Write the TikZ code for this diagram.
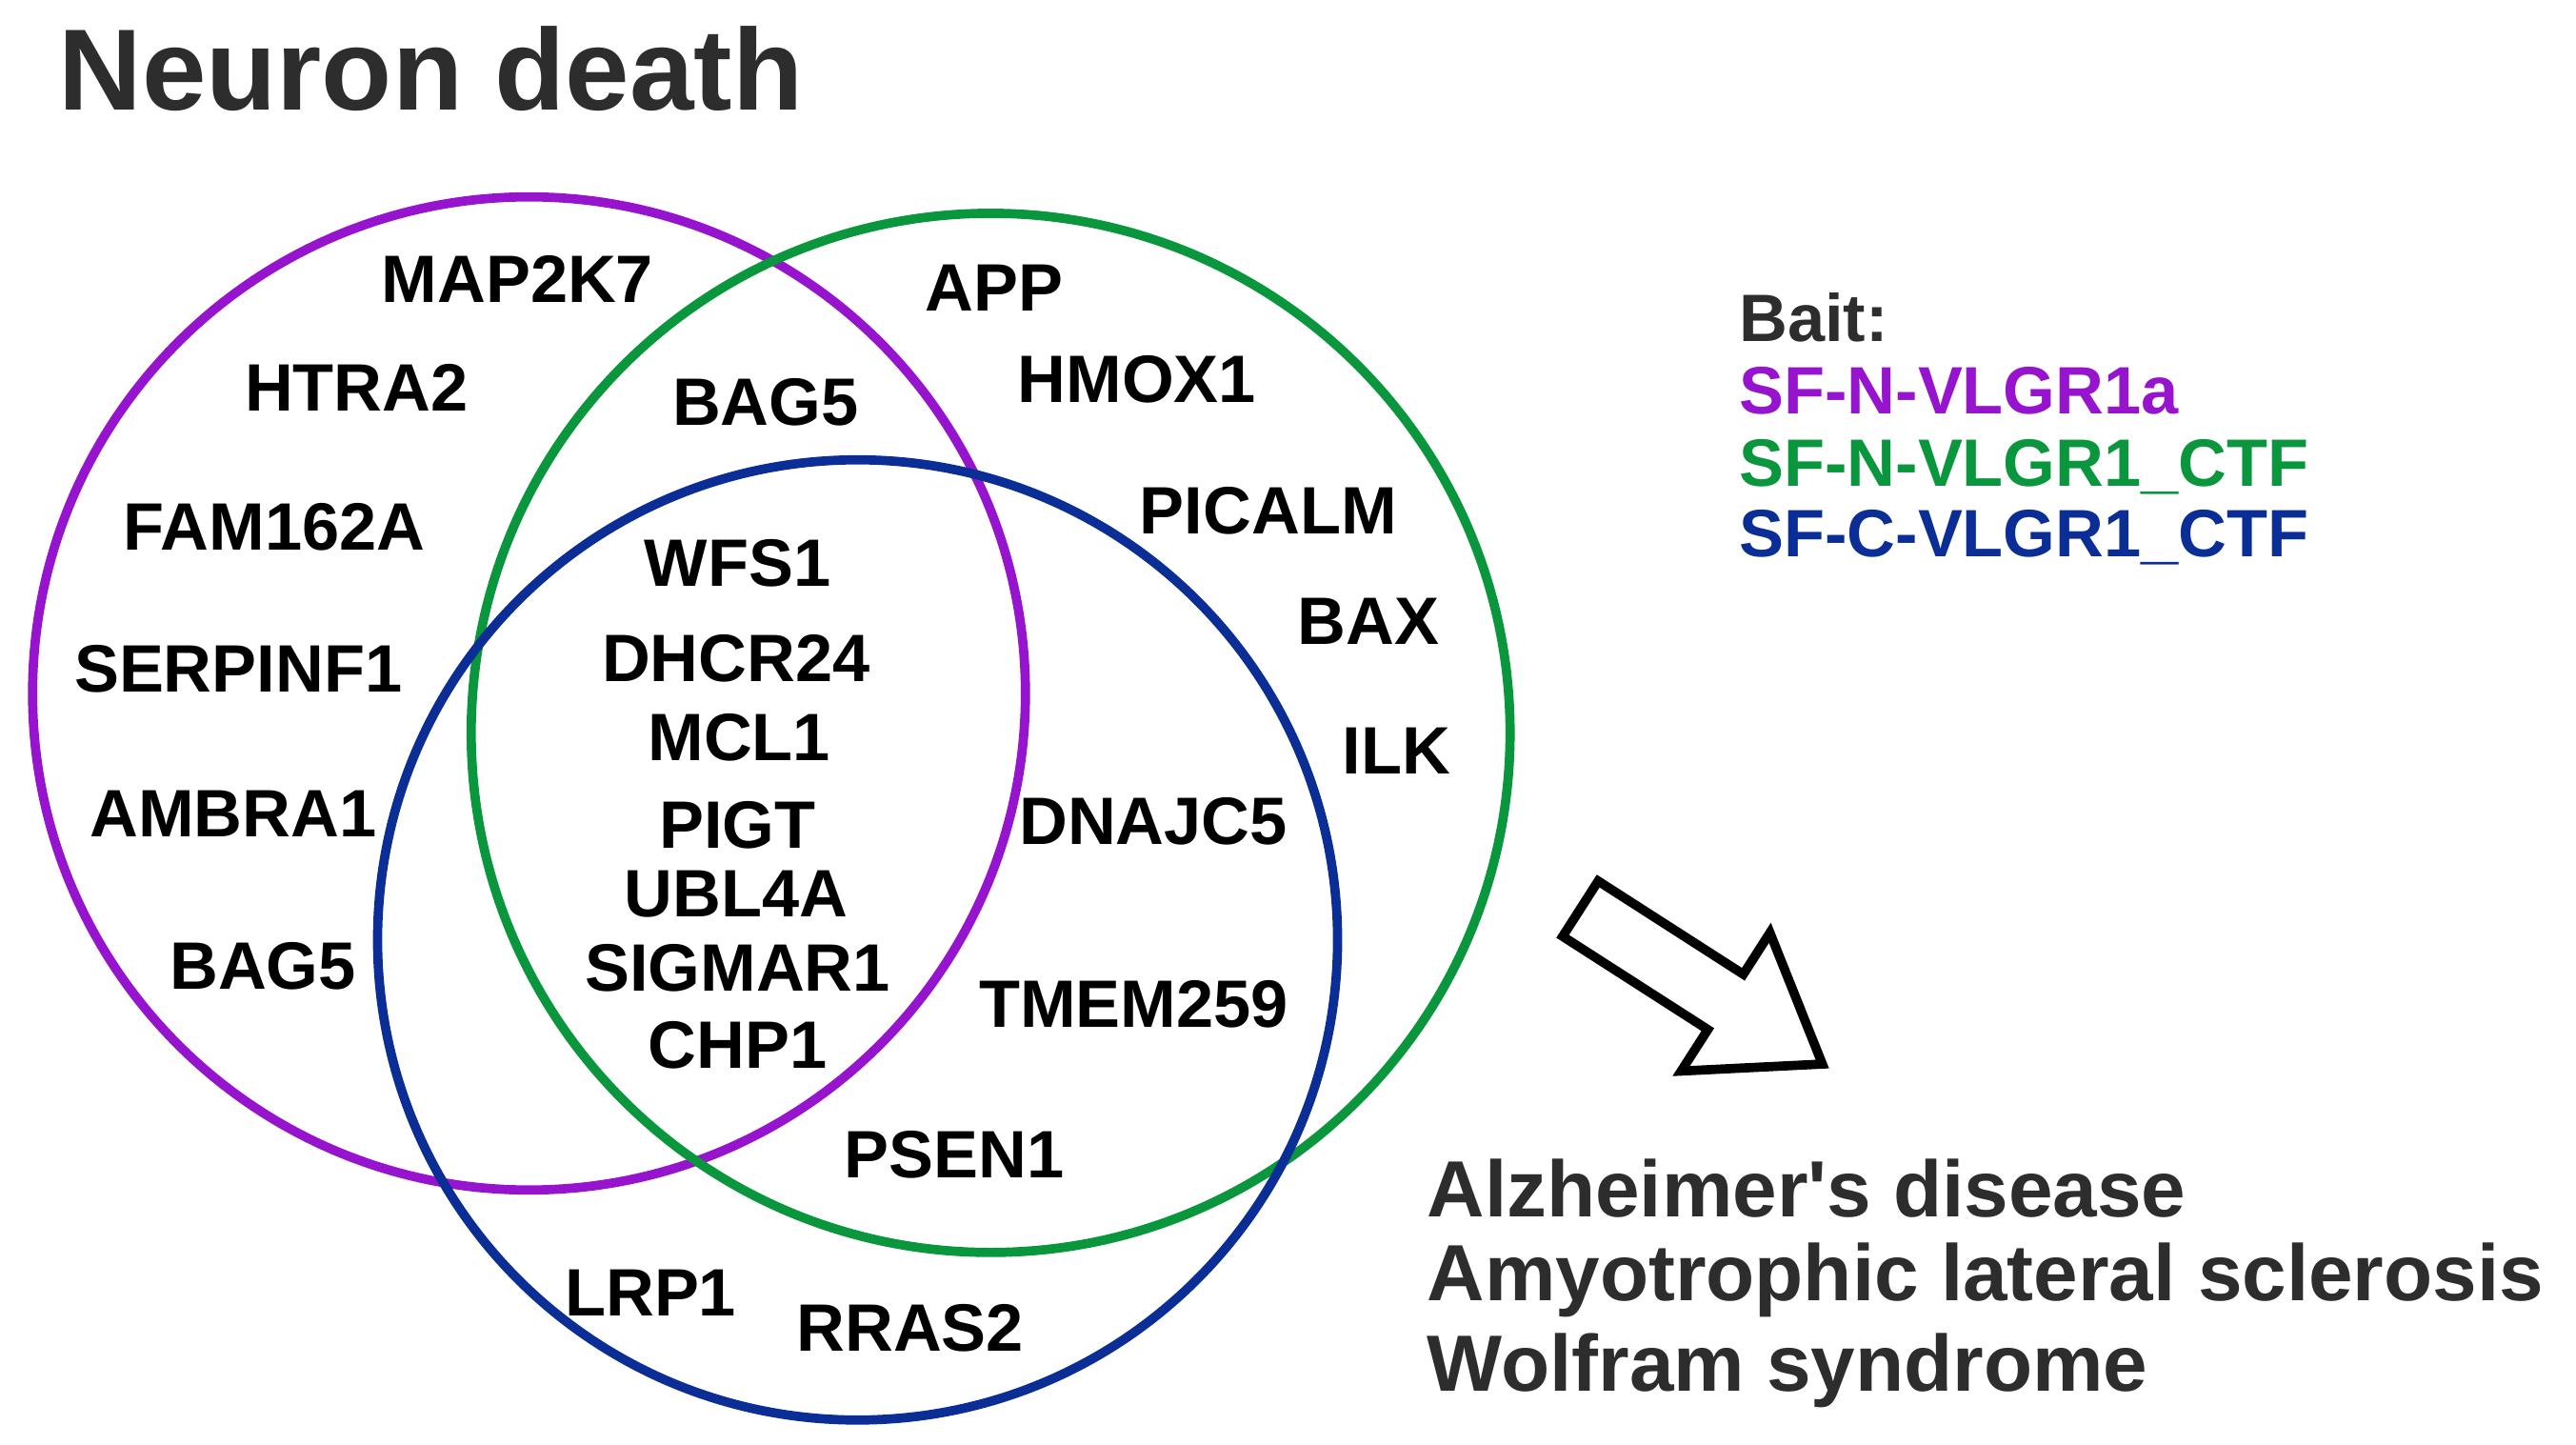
\documentclass[tikz,border=0pt]{standalone}
\usepackage{fontspec}
\setmainfont{Liberation Sans}
\usepackage{xcolor}
\definecolor{baitA}{RGB}{150,20,205}
\definecolor{baitB}{RGB}{10,150,60}
\definecolor{baitC}{RGB}{10,45,150}
\definecolor{txtgray}{RGB}{45,45,45}

\begin{document}
\begin{tikzpicture}[x=0.01cm,y=-0.01cm,
    gene/.style={font=\fontsize{11.6}{13}\selectfont\bfseries},
    ring/.style={line width=1.6pt},
    legend/.style={font=\fontsize{11.6}{13}\selectfont\bfseries,anchor=west,inner sep=0pt},
    disease/.style={font=\fontsize{13.8}{16}\selectfont\bfseries,text=txtgray,anchor=west,inner sep=0pt}]
    \useasboundingbox (0,0) rectangle (1568,879);

    \node[font=\fontsize{20}{24}\selectfont\bfseries,text=txtgray,anchor=west,inner sep=0pt] (title) at (35,42) {Neuron death};

    % the three baits
    \draw[ring,baitA] (322,422) circle[radius=3.02cm];
    \draw[ring,baitB] (603,446) circle[radius=3.16cm];
    \draw[ring,baitC] (522,572) circle[radius=2.92cm];

    % genes
    \node[gene] (map2k7) at (315,170) {MAP2K7};
    \node[gene] (htra2) at (217,236) {HTRA2};
    \node[gene] (fam162a) at (167,321) {FAM162A};
    \node[gene] (serpinf1) at (145,407) {SERPINF1};
    \node[gene] (ambra1) at (142,495) {AMBRA1};
    \node[gene] (bag5a) at (160,588) {BAG5};
    \node[gene] (bag5b) at (466,245) {BAG5};
    \node[gene] (app) at (605,175) {APP};
    \node[gene] (hmox1) at (692,231) {HMOX1};
    \node[gene] (picalm) at (772,311) {PICALM};
    \node[gene] (bax) at (833,378) {BAX};
    \node[gene] (ilk) at (850,457) {ILK};
    \node[gene] (wfs1) at (449,343) {WFS1};
    \node[gene] (dhcr24) at (448,401) {DHCR24};
    \node[gene] (mcl1) at (450,449) {MCL1};
    \node[gene] (pigt) at (449,502) {PIGT};
    \node[gene] (ubl4a) at (448,544) {UBL4A};
    \node[gene] (sigmar1) at (449,589) {SIGMAR1};
    \node[gene] (chp1) at (449,636) {CHP1};
    \node[gene] (dnajc5) at (702,500) {DNAJC5};
    \node[gene] (tmem259) at (690,611) {TMEM259};
    \node[gene] (psen1) at (581,703) {PSEN1};
    \node[gene] (lrp1) at (396,787) {LRP1};
    \node[gene] (rras2) at (554,808) {RRAS2};

    % legend
    \node[legend,text=txtgray] (bait) at (1058,193) {Bait:};
    \node[legend,text=baitA] (nvlgr) at (1058,238) {SF-N-VLGR1a};
    \node[legend,text=baitB] (nctf) at (1058,284) {SF-N-VLGR1\_CTF};
    \node[legend,text=baitC] (cctf) at (1058,327) {SF-C-VLGR1\_CTF};

    % hollow arrow
    \begin{scope}[shift={(962,553)},rotate=-32.7]
        \draw[line width=1.6pt,line join=miter]
            (0,-20) -- (105,-20) -- (105,-50) -- (175,0) -- (105,50) -- (105,20) -- (0,20) -- cycle;
    \end{scope}

    % diseases
    \node[disease] (alz) at (868,723) {Alzheimer\textquotesingle s disease};
    \node[disease] (als) at (868,779) {Amyotrophic lateral sclerosis};
    \node[disease] (wolf) at (868,834) {Wolfram syndrome};
\end{tikzpicture}
\end{document}
